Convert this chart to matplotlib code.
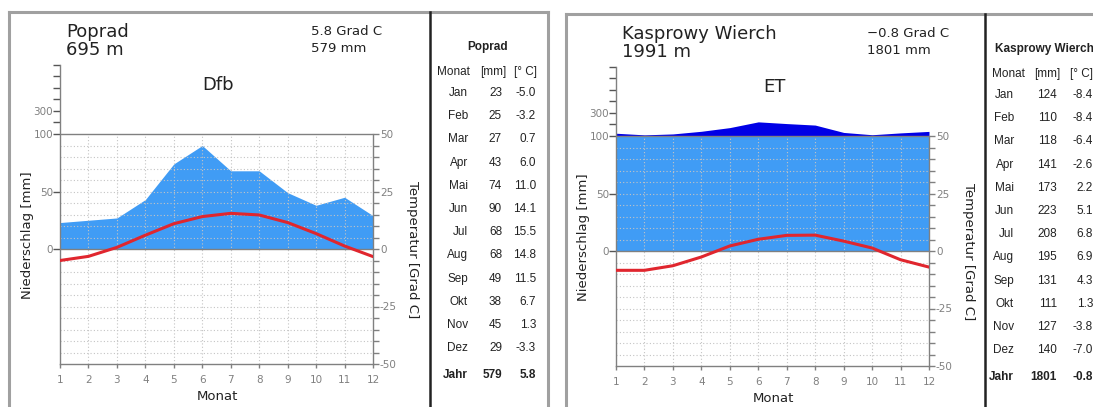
import numpy as np
import matplotlib.pyplot as plt
from matplotlib.lines import Line2D

monate = np.arange(1, 13)
monat_namen = ['Jan', 'Feb', 'Mar', 'Apr', 'Mai', 'Jun', 'Jul', 'Aug', 'Sep', 'Okt', 'Nov', 'Dez']

poprad_mm = [23, 25, 27, 43, 74, 90, 68, 68, 49, 38, 45, 29]
poprad_temp = [-5.0, -3.2, 0.7, 6.0, 11.0, 14.1, 15.5, 14.8, 11.5, 6.7, 1.3, -3.3]
poprad_jahr_mm = 579
poprad_jahr_temp = 5.8

kasprowy_mm = [124, 110, 118, 141, 173, 223, 208, 195, 131, 111, 127, 140]
kasprowy_temp = [-8.4, -8.4, -6.4, -2.6, 2.2, 5.1, 6.8, 6.9, 4.3, 1.3, -3.8, -7.0]
kasprowy_jahr_mm = 1801
kasprowy_jahr_temp = -0.8

W, H = 1093, 407
HELL = '#409cf5'
DUNKEL = '#0000e6'
ROT = '#e0262e'
GRAU = '#808080'
TXT = '#222222'

fig = plt.figure(figsize=(W / 100, H / 100), dpi=100)


def fx(x):
    return x / W


def fy(y):
    return 1 - y / H


def skala(p):
    # mm -> Temperatur-Achse: bis 100 mm 2 mm = 1 Grad, darueber 1/10
    p = np.asarray(p, float)
    return np.where(p <= 100, p / 2, 50 + (p - 100) / 20)


def linie(xs, ys, **kw):
    fig.add_artist(Line2D([fx(x) for x in xs], [fy(y) for y in ys],
                          transform=fig.transFigure, **kw))


def diagramm(dx, dy, name, hoehe, klima, mm, temp, jahr_mm, jahr_temp,
             tab_x, spalten, kopf):
    ax = fig.add_axes([fx(60 + dx), fy(364 + dy), 313 / W, 299 / H])
    ax.set_xlim(1, 12)
    ax.set_ylim(-50, 80)
    for s in ax.spines.values():
        s.set_visible(False)

    mm = np.asarray(mm, float)
    ax.fill_between(monate, 0, np.minimum(mm, 100) / 2, color=HELL, lw=0, zorder=1)
    ax.fill_between(monate, 50, skala(mm), where=mm > 100, interpolate=True,
                    color=DUNKEL, lw=0, zorder=1)

    # Raster
    for t in range(-45, 50, 5):
        if t != 0:
            ax.plot([1, 12], [t, t], ls=(0, (1, 2)), color='#c4c4c4', lw=0.8, zorder=2)
    for m in range(2, 12):
        ax.plot([m, m], [-50, 50], ls=(0, (1, 2)), color='#c4c4c4', lw=0.8, zorder=2)

    ax.plot([1, 12], [50, 50], color=GRAU, lw=1, zorder=3)
    ax.plot([1, 12], [0, 0], color=GRAU, lw=1, zorder=3)
    ax.plot([1, 12], [-50, -50], color=GRAU, lw=1, zorder=3, clip_on=False)
    ax.plot([1, 1], [-50, 80], color=GRAU, lw=1, zorder=3, clip_on=False)
    ax.plot([12, 12], [-50, 50], color=GRAU, lw=1, zorder=3, clip_on=False)

    ax.plot(monate, temp, color=ROT, lw=2.2, zorder=5, solid_capstyle='round')

    ax.set_yticks([0, 25, 50, 55, 60, 65, 70, 75, 80])
    ax.set_yticklabels(['0', '50', '100', '', '300', '', '', '', ''])
    ax.tick_params(axis='y', length=5, width=1, color='#555555', labelcolor=GRAU,
                   labelsize=7.5, pad=0)
    ax.set_xticks(monate)
    ax.set_xticklabels([str(m) for m in monate])
    ax.tick_params(axis='x', length=3, width=1, color=GRAU, labelcolor=GRAU,
                   labelsize=7.5, pad=5)

    ax2 = ax.twinx()
    ax2.set_ylim(-50, 80)
    for s in ax2.spines.values():
        s.set_visible(False)
    ax2.set_yticks(range(-50, 51, 5))
    ax2.set_yticklabels([str(t) if t % 25 == 0 else '' for t in range(-50, 51, 5)])
    ax2.tick_params(axis='y', length=4, width=1, color=GRAU, labelcolor=GRAU,
                    labelsize=7.5, pad=1)

    # Beschriftung
    fig.text(fx(66 + dx), fy(37 + dy), name, fontsize=13, color=TXT, va='baseline')
    fig.text(fx(66 + dx), fy(55 + dy), hoehe, fontsize=13, color=TXT, va='baseline')
    fig.text(fx(311 + dx), fy(35 + dy), f'{jahr_temp:.1f} Grad C'.replace('-', '\u2212'),
             fontsize=9.5, color=TXT, va='baseline')
    fig.text(fx(311 + dx), fy(52 + dy), f'{jahr_mm} mm', fontsize=9.5, color=TXT,
             va='baseline')
    fig.text(fx(218 + dx), fy(90 + dy), klima, fontsize=13, color=TXT, va='baseline',
             ha='center')
    fig.text(fx(27 + dx), fy(235 + dy), 'Niederschlag [mm]', fontsize=9.5, color=TXT,
             rotation=90, ha='center', va='center')
    fig.text(fx(413 + dx), fy(250 + dy), 'Temperatur [Grad C]', fontsize=9.5,
             color=TXT, rotation=270, ha='center', va='center')
    fig.text(fx(217 + dx), fy(397 + dy), 'Monat', fontsize=9.5, color=TXT,
             ha='center', va='center')

    # Tabelle
    c1, c2, c3 = spalten
    k1, k2, k3 = kopf
    tab = dict(fontsize=8.5, color=TXT, va='center', family='Liberation Sans')
    fig.text(fx(tab_x), fy(47 + dy), name, ha='center', fontweight='bold', **tab)
    fig.text(fx(k1), fy(72 + dy), 'Monat', ha='right', **tab)
    fig.text(fx(k2), fy(72 + dy), '[mm]', ha='right', **tab)
    fig.text(fx(k3), fy(72 + dy), '[° C]', ha='right', **tab)
    for i, mon in enumerate(monat_namen):
        y = 93 + i * 23.2 + dy
        fig.text(fx(c1), fy(y), mon, ha='right', **tab)
        fig.text(fx(c2), fy(y), f'{int(mm[i])}', ha='right', **tab)
        fig.text(fx(c3), fy(y), f'{temp[i]:.1f}', ha='right', **tab)
    y = 375 + dy
    fig.text(fx(c1), fy(y), 'Jahr', ha='right', fontweight='bold', **tab)
    fig.text(fx(c2), fy(y), f'{jahr_mm}', ha='right', fontweight='bold', **tab)
    fig.text(fx(c3), fy(y), f'{jahr_temp:.1f}', ha='right', fontweight='bold', **tab)


diagramm(0, 0, 'Poprad', '695 m', 'Dfb', poprad_mm, poprad_temp,
         poprad_jahr_mm, poprad_jahr_temp, 488, (468, 502, 536), (470, 506, 537))
diagramm(556, 2, 'Kasprowy Wierch', '1991 m', 'ET', kasprowy_mm, kasprowy_temp,
         kasprowy_jahr_mm, kasprowy_jahr_temp, 1044, (1014, 1057, 1093),
         (1025, 1060, 1093))

# Rahmen
linie([9, 9], [12, 410], color='#a0a0a0', lw=2.2)
linie([9, 548], [12, 12], color='#a0a0a0', lw=2.2)
linie([548, 548], [12, 410], color='#a0a0a0', lw=2.2)
linie([430, 430], [12, 410], color='#222222', lw=1.8)
linie([566, 566], [14, 410], color='#a0a0a0', lw=2.2)
linie([566, 1095], [14, 14], color='#a0a0a0', lw=2.2)
linie([985, 985], [14, 410], color='#222222', lw=1.8)

fig.savefig('out.png', dpi=100)
